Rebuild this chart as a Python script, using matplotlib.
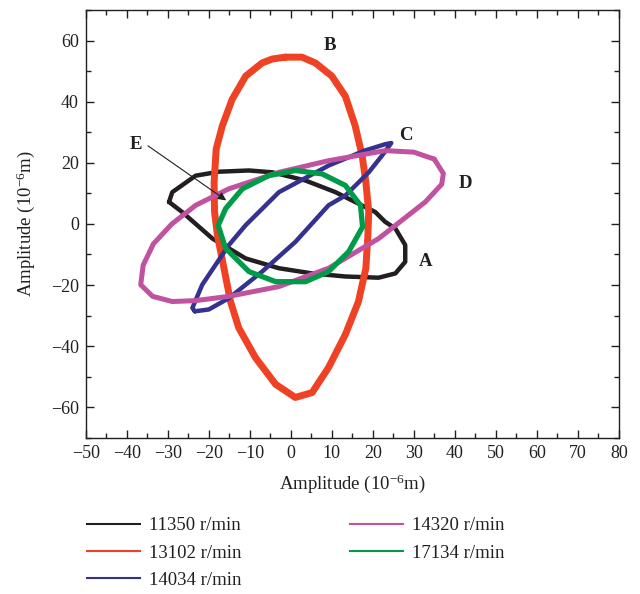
import matplotlib.pyplot as plt
from matplotlib.lines import Line2D
from matplotlib.ticker import MultipleLocator

plt.rcParams['font.family'] = ['Liberation Serif', 'DejaVu Serif']
plt.rcParams['mathtext.fontset'] = 'custom'
plt.rcParams['mathtext.rm'] = 'Liberation Serif'
plt.rcParams['mathtext.default'] = 'regular'

# -----------------------------
# Orbit points (10^-6 m)
# -----------------------------

labels = ["11350 r/min", "13102 r/min", "14034 r/min", "14320 r/min", "17134 r/min"]
colors = ["#231f20", "#ef4123", "#35318f", "#c0529f", "#009b48"]
widths = [3.2, 5.0, 3.2, 3.6, 3.8]

a_x = [-29.7, -28.9, -23.2, -17.5, -10.2, -4.5, 3.6, 10.9, 17.3, 20.6, 23, 25.5,
       27.9, 27.9, 25.5, 21.4, 13.3, 5.2, -2.9, -11, -19.1, -26.5, -29.7]
a_y = [7.2, 10.4, 15.8, 17.1, 17.5, 16.9, 14.2, 10.4, 6.1, 3.9, 0.7, -1.5,
       -6.9, -12.4, -16.2, -17.6, -17.2, -16.2, -14.5, -11.3, -4.8, 3.9, 7.2]

b_x = [-1.3, -4.5, -7, -11, -14.3, -16.7, -18.2, -18.7, -18.6, -17.9, -16.3, -14.7,
       -12.7, -8.6, -3.7, 1.1, 5.2, 9.2, 13.3, 16.5, 18.3, 18.8, 19.0, 18.3, 17.4,
       15.7, 13.3, 10, 6, 2.7, -1.3]
b_y = [54.6, 54.0, 52.7, 48.4, 40.8, 32.1, 24.5, 13.7, 4.0, -3.7, -14.5, -25.4,
       -34, -43.8, -52.5, -56.8, -55.2, -47, -36.2, -25.4, -14.5, -3.7, 4, 13.7, 22.3,
       32.1, 41.8, 48.4, 52.7, 54.6, 54.6]

c_x = [-23.4, -24, -21.6, -15.1, -11, -2.9, 9.2, 18, 23, 24.5, 22.2, 19, 13.3,
       9.2, 1.1, -7, -15.1, -20, -23.4]
c_y = [-28.6, -27.5, -19.9, -6.9, -0.4, 10.4, 19.1, 24, 26.1, 26.5, 22.3, 16.9, 9.3,
       6.1, -5.9, -15.6, -24.3, -28, -28.6]

d_x = [35, 30, 23, 9.2, -2.9, -15.1, -23.2, -29.0, -33.5, -36.0, -36.6, -33.7,
       -28.9, -23.2, -15.1, -2.9, 9.2, 21.4, 32.8, 36.8, 37.2, 35]
d_y = [21.2, 23.5, 24, 20.7, 16.9, 11.5, 6.1, 0.0, -6.5, -13.5, -19.9, -23.7,
       -25.4, -25.1, -23.7, -20.5, -14.5, -4.8, 7.2, 13, 16.5, 21.2]

e_x = [1.1, -5.4, -11.8, -15.9, -17.7, -15.9, -10.2, -3.7, 3.6, 9.2, 14.1, 17.5,
       17, 13.3, 7.6, 1.1]
e_y = [17.5, 15.8, 11.5, 5, -0.5, -8, -15.6, -18.9, -18.9, -15.6, -9.1, -1,
       6.1, 12.6, 16.4, 17.5]

orbits = [(a_x, a_y), (b_x, b_y), (c_x, c_y), (d_x, d_y), (e_x, e_y)]

# curve letters and where they sit
tag_text = ["A", "B", "C", "D", "E"]
tag_x = [31.1, 8.0, 26.3, 40.9, -37.8]
tag_y = [-12.4, 58.3, 28.8, 13.1, 26.1]

# -----------------------------
# Plot
# -----------------------------

fig = plt.figure(figsize=(6.4, 5.94), dpi=100)
ax = fig.add_axes([0.134, 0.263, 0.833, 0.72])

for (xs, ys), c, lw in zip(orbits, colors, widths):
    ax.plot(xs, ys, color=c, lw=lw, solid_joinstyle='round', solid_capstyle='round')

for t, x, y in zip(tag_text, tag_x, tag_y):
    ax.text(x, y, t, fontsize=13.5, fontweight='bold', color='#231f20',
            ha='left' if t != 'E' else 'center', va='center')

ax.annotate("", xy=(-15.2, 7.2), xytext=(-35.4, 26.1),
            arrowprops=dict(arrowstyle='-|>', color='#231f20', lw=0.8,
                            mutation_scale=12))

ax.set_xlim(-50, 80)
ax.set_ylim(-70, 70)
ax.xaxis.set_major_locator(MultipleLocator(10))
ax.xaxis.set_minor_locator(MultipleLocator(5))
ax.yaxis.set_major_locator(MultipleLocator(20))
ax.yaxis.set_minor_locator(MultipleLocator(10))
ax.tick_params(which='both', direction='in', top=True, right=True, labelsize=13,
               color='#231f20', labelcolor='#231f20', width=1.0, pad=5)
ax.tick_params(which='major', length=6)
ax.tick_params(which='minor', length=3.5)
for s in ax.spines.values():
    s.set_linewidth(1.0)
    s.set_color('#231f20')

ax.set_xlabel("Amplitude (10$^{-6}$m)", fontsize=13.5, color='#231f20', labelpad=8)
ax.set_ylabel("Amplitude (10$^{-6}$m)", fontsize=13.5, color='#231f20', labelpad=10)

handles = [Line2D([], [], color=c, lw=1.5) for c in colors]
fig.legend(handles, labels, loc='upper left', bbox_to_anchor=(0.11, 0.158),
           ncol=2, frameon=False, fontsize=13.5, handlelength=2.8,
           handletextpad=0.5, columnspacing=5.8, labelspacing=0.55,
           labelcolor='#231f20')

fig.savefig("out.png", dpi=100)
